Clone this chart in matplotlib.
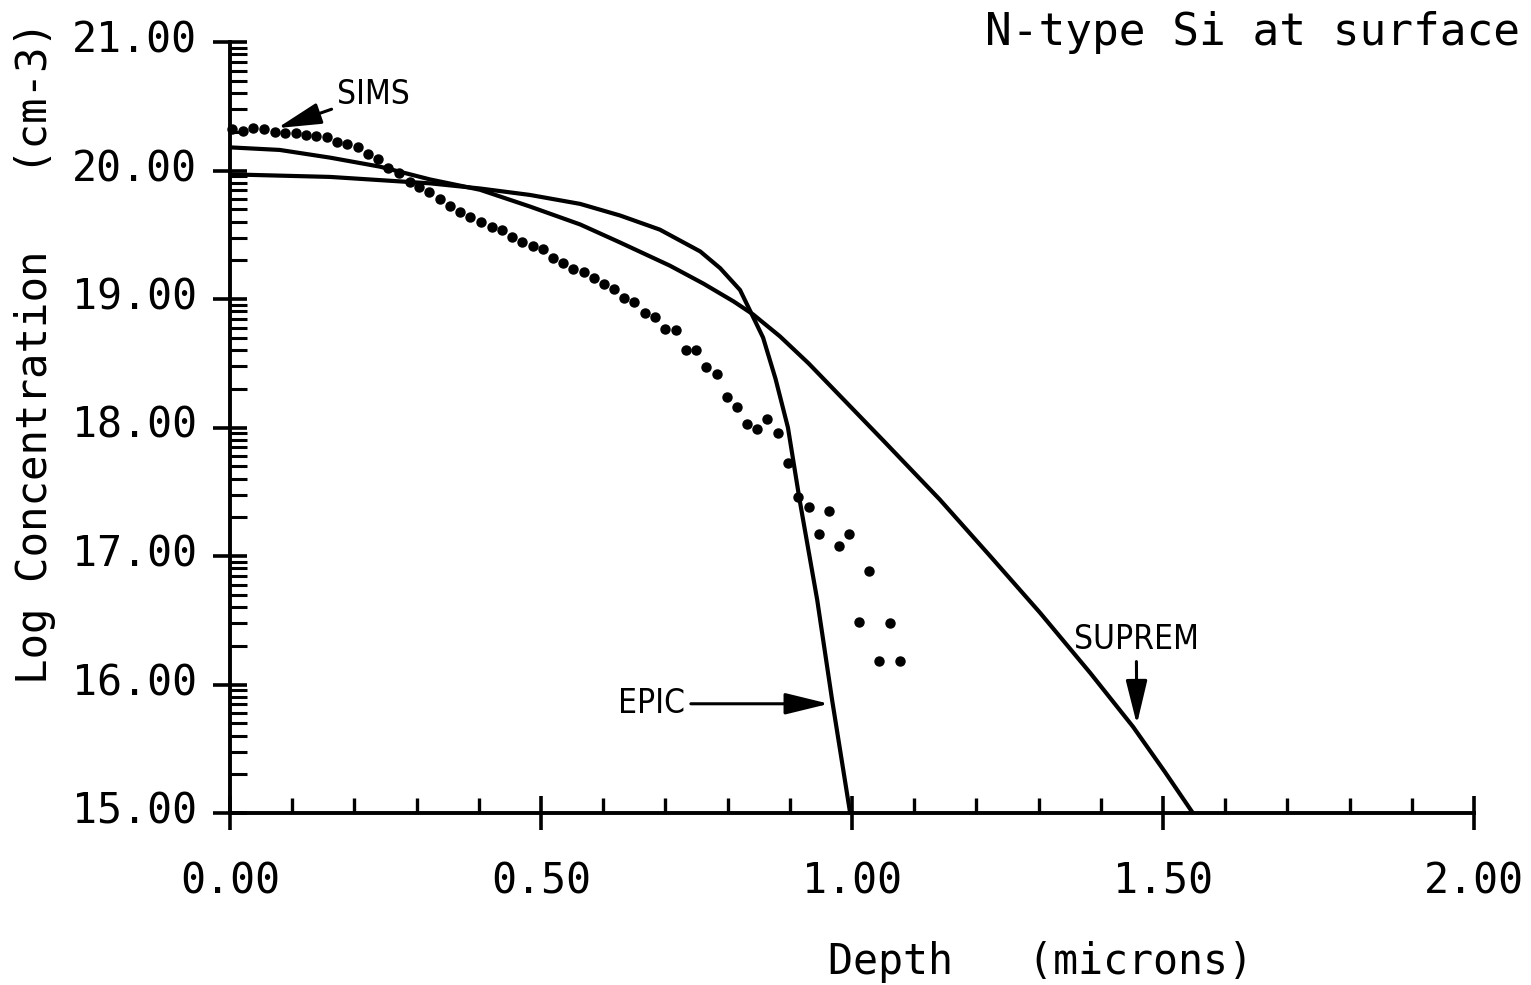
import numpy as np
import matplotlib.pyplot as plt
import matplotlib.transforms as mtrans
from matplotlib.ticker import FixedLocator, FormatStrFormatter

# Perfil SIMS (puntos medidos)
sims_x = [0.003, 0.021, 0.037, 0.055, 0.072, 0.088, 0.106, 0.122, 0.138, 0.156,
          0.172, 0.188, 0.206, 0.222, 0.238, 0.254, 0.272, 0.289, 0.304, 0.320,
          0.338, 0.354, 0.370, 0.386, 0.404, 0.421, 0.437, 0.453, 0.469, 0.487,
          0.503, 0.519, 0.535, 0.551, 0.569, 0.585, 0.601, 0.617, 0.633, 0.650,
          0.667, 0.683, 0.699, 0.717, 0.733, 0.749, 0.765, 0.783, 0.799, 0.815,
          0.831, 0.847, 0.863, 0.881, 0.897, 0.913, 0.931, 0.947, 0.963, 0.979,
          0.995, 1.011, 1.027, 1.043, 1.061, 1.077]
sims_y = [20.32, 20.31, 20.33, 20.32, 20.30, 20.29, 20.29, 20.28, 20.27, 20.26,
          20.22, 20.21, 20.18, 20.13, 20.09, 20.02, 19.98, 19.91, 19.87, 19.83,
          19.78, 19.72, 19.68, 19.64, 19.60, 19.56, 19.54, 19.48, 19.44, 19.41,
          19.39, 19.32, 19.28, 19.23, 19.21, 19.16, 19.12, 19.08, 19.01, 18.98,
          18.89, 18.86, 18.77, 18.76, 18.60, 18.60, 18.47, 18.42, 18.24, 18.16,
          18.03, 17.99, 18.07, 17.96, 17.72, 17.46, 17.38, 17.17, 17.35, 17.08,
          17.17, 16.49, 16.88, 16.18, 16.48, 16.18]

# Simulacion SUPREM
suprem_x = [0.000, 0.080, 0.161, 0.241, 0.322, 0.402, 0.482, 0.563, 0.627, 0.707,
            0.761, 0.810, 0.841, 0.884, 0.930, 0.968, 1.050, 1.141, 1.222, 1.302,
            1.383, 1.452, 1.503, 1.548]
suprem_y = [20.18, 20.16, 20.10, 20.03, 19.93, 19.85, 19.72, 19.58, 19.44, 19.26,
            19.12, 18.98, 18.88, 18.71, 18.50, 18.31, 17.90, 17.44, 17.00, 16.56,
            16.09, 15.67, 15.32, 15.00]

# Simulacion EPIC
epic_x = [0.000, 0.161, 0.322, 0.402, 0.482, 0.563, 0.627, 0.691, 0.756, 0.788,
          0.820, 0.841, 0.857, 0.877, 0.897, 0.916, 0.944, 0.968, 0.997]
epic_y = [19.97, 19.95, 19.90, 19.86, 19.81, 19.74, 19.65, 19.54, 19.37, 19.24,
          19.07, 18.86, 18.70, 18.38, 18.00, 17.43, 16.66, 15.88, 15.00]

x_major = [0.0, 0.5, 1.0, 1.5, 2.0]
y_major = [15, 16, 17, 18, 19, 20, 21]

mono = 'DejaVu Sans Mono'

fig = plt.figure(figsize=(15.31, 9.85), dpi=100)
ax = fig.add_axes([230 / 1531, 172 / 985, 1244 / 1531, 771 / 985])

ax.plot(suprem_x, suprem_y, color='black', lw=3.0, solid_joinstyle='round')
ax.plot(epic_x, epic_y, color='black', lw=3.0, solid_joinstyle='round')
ax.plot(sims_x, sims_y, 'o', color='black', ms=6.5, clip_on=False)

ax.set_xlim(0, 2)
ax.set_ylim(15, 21)
ax.spines['top'].set_visible(False)
ax.spines['right'].set_visible(False)
ax.spines['left'].set_linewidth(2.8)
ax.spines['bottom'].set_linewidth(2.8)

ax.xaxis.set_major_locator(FixedLocator(x_major))
ax.xaxis.set_minor_locator(FixedLocator(np.arange(0, 2.01, 0.1)))
ax.yaxis.set_major_locator(FixedLocator(y_major))
# marcas menores logaritmicas dentro de cada decada
minor_y = [d + np.log10(k) for d in range(15, 21) for k in range(2, 10)]
ax.yaxis.set_minor_locator(FixedLocator(minor_y))
ax.xaxis.set_major_formatter(FormatStrFormatter('%.2f'))
ax.yaxis.set_major_formatter(FormatStrFormatter('%.2f'))

ax.tick_params(axis='x', which='major', direction='inout', length=24, width=2.6, pad=22)
ax.tick_params(axis='x', which='minor', direction='in', length=11, width=2.4)
ax.tick_params(axis='y', which='major', direction='inout', length=24, width=2.6, pad=12)
ax.tick_params(axis='y', which='minor', direction='in', length=12, width=2.2)
for lab in ax.get_xticklabels() + ax.get_yticklabels():
    lab.set_fontfamily(mono)
    lab.set_fontsize(30)

# las etiquetas del eje y quedan un poco por encima de la marca
up = mtrans.ScaledTranslation(0, 6 / 100, fig.dpi_scale_trans)
for t in ax.yaxis.get_major_ticks():
    t.label1.set_transform(t.label1.get_transform() + up)

fig.text(1040 / 1531, 1 - 962 / 985, 'Depth   (microns)', family=mono, fontsize=30,
         ha='center', va='center')
fig.text(35 / 1531, 1 - 352 / 985, 'Log Concentration   (cm-3)', family=mono,
         fontsize=30.5, rotation=90, ha='center', va='center')
fig.text(1520 / 1531, 1 - 32 / 985, 'N-type Si at surface', family=mono, fontsize=32,
         ha='right', va='center')

arrow = dict(arrowstyle='-|>,head_length=0.9,head_width=0.22', color='black', lw=2.2,
             mutation_scale=30, shrinkA=2, shrinkB=0)
lab_kw = dict(family='DejaVu Sans', fontstretch='condensed', fontsize=24, va='center')
ax.annotate('SIMS', xy=(0.076, 20.33), xytext=(0.172, 20.59), ha='left',
            arrowprops=arrow, **lab_kw)
ax.annotate('EPIC', xy=(0.963, 15.85), xytext=(0.732, 15.85), ha='right',
            arrowprops=arrow, **lab_kw)
ax.annotate('SUPREM', xy=(1.458, 15.69), xytext=(1.457, 16.35), ha='center',
            arrowprops=arrow, **lab_kw)

plt.savefig('out.png', dpi=100)
